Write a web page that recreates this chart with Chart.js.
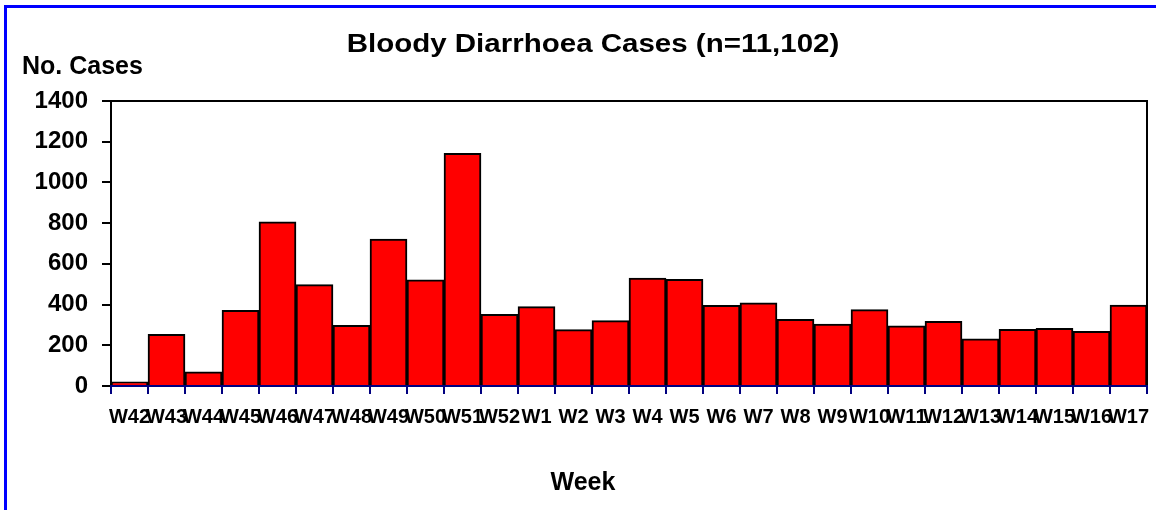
<!DOCTYPE html>
<html>
<head>
<meta charset="utf-8">
<title>Bloody Diarrhoea Cases</title>
<script src="https://cdn.jsdelivr.net/npm/chart.js@4.4.1/dist/chart.umd.min.js"></script>
<style>
  html, body { margin: 0; padding: 0; background: #fff; width: 1156px; height: 510px; overflow: hidden; }
  #frame {
    position: absolute; left: 4px; top: 5px; width: 1170px; height: 530px;
    border-left: 3px solid #0000ff; border-top: 3px solid #0000ff;
  }
  #wrap { position: absolute; left: 0; top: 0; width: 1156px; height: 510px; }
</style>
</head>
<body>
<div id="frame"></div>
<div id="wrap"><canvas id="cases" width="1156" height="510"></canvas></div>
<script>
// Weekly counts
const weeks = ['W42', 'W43', 'W44', 'W45', 'W46', 'W47', 'W48', 'W49', 'W50', 'W51', 'W52',
  'W1', 'W2', 'W3', 'W4', 'W5', 'W6', 'W7', 'W8', 'W9', 'W10', 'W11', 'W12', 'W13',
  'W14', 'W15', 'W16', 'W17'];
const caseCounts = [20, 254, 70, 372, 807, 498, 298, 722, 521, 1143, 352,
  390, 277, 321, 530, 524, 396, 409, 327, 304, 375, 295, 318, 232,
  278, 283, 268, 398];
const yTicks = [0, 200, 400, 600, 800, 1000, 1200, 1400];

const chartTitle = 'Bloody Diarrhoea Cases (n=11,102)';
const yTitle = 'No. Cases';
const xTitle = 'Week';
const FONT = "'Liberation Sans', Arial, sans-serif";

// frame on top/right of the plot + the free-standing titles
const chartDecor = {
  id: 'chartDecor',
  afterDraw(chart) {
    const { ctx, chartArea } = chart;
    ctx.save();
    ctx.strokeStyle = '#000';
    ctx.lineWidth = 2;
    ctx.beginPath();
    ctx.moveTo(chartArea.left, chartArea.top);
    ctx.lineTo(chartArea.right, chartArea.top);
    ctx.lineTo(chartArea.right, chartArea.bottom - 1);
    ctx.stroke();

    ctx.fillStyle = '#000';
    ctx.textBaseline = 'alphabetic';

    // main title is drawn a little wide, like the original
    ctx.font = `bold 25px ${FONT}`;
    ctx.textAlign = 'center';
    ctx.save();
    ctx.translate(593, 52);
    ctx.scale(1.18, 1);
    ctx.fillText(chartTitle, 0, 0);
    ctx.restore();

    ctx.font = `bold 25px ${FONT}`;
    ctx.textAlign = 'left';
    ctx.fillText(yTitle, 22, 74);

    ctx.font = `bold 25px ${FONT}`;
    ctx.textAlign = 'center';
    ctx.fillText(xTitle, 583, 490);
    ctx.restore();
  }
};

new Chart(document.getElementById('cases'), {
  type: 'bar',
  data: {
    labels: weeks,
    datasets: [{
      label: 'Cases',
      data: caseCounts,
      backgroundColor: '#ff0000',
      borderColor: '#000000',
      borderWidth: 2,
      barPercentage: 1,
      categoryPercentage: 1
    }]
  },
  options: {
    responsive: false,
    animation: false,
    layout: { padding: { top: 101, right: 9, bottom: 0, left: 0 } },
    plugins: {
      legend: { display: false },
      title: { display: false },
      tooltip: { enabled: false }
    },
    scales: {
      x: {
        afterFit: (scale) => {
          scale.height = 124;
          // labels may run into each other / past the edge, like the original
          scale.paddingLeft = 0;
          scale.paddingRight = 0;
        },
        grid: {
          display: true,
          drawOnChartArea: false,
          offset: true,
          tickLength: 8,
          color: '#000080',
          lineWidth: 2
        },
        border: { display: true, color: '#000080', width: 2, z: 1 },
        ticks: {
          autoSkip: false,
          maxRotation: 0,
          minRotation: 0,
          padding: 11,
          color: '#000',
          font: { family: FONT, size: 20, weight: 'bold' }
        }
      },
      y: {
        min: 0,
        max: 1400,
        afterFit: (scale) => { scale.width = 111; },
        afterBuildTicks: (scale) => { scale.ticks = yTicks.map(v => ({ value: v })); },
        grid: {
          display: true,
          drawOnChartArea: false,
          tickLength: 9,
          color: '#000',
          lineWidth: 2
        },
        border: { display: true, color: '#000', width: 2 },
        ticks: {
          padding: 14,
          color: '#000',
          font: { family: FONT, size: 24, weight: 'bold' },
          callback: (value) => String(value)
        }
      }
    }
  },
  plugins: [chartDecor]
});
</script>
</body>
</html>
